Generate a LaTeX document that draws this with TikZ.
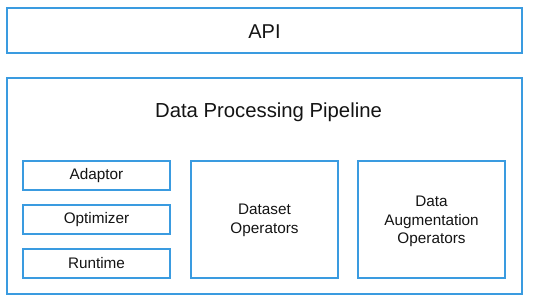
\documentclass[tikz,border=0pt]{standalone}
\usepackage{fontspec}
\usetikzlibrary{calc}
\setmainfont{Liberation Sans}
\definecolor{boxblue}{RGB}{58,155,224}
\definecolor{txt}{RGB}{20,20,20}
\begin{document}
\begin{tikzpicture}[x=1pt,y=-1pt,
  bx/.style={draw=boxblue,line width=2pt,inner sep=0pt,outer sep=0pt,text=txt,align=center},
  lbl/.style={text=txt,inner sep=0pt,align=center,font=\fontsize{15.3}{18.5}\selectfont},
  small/.style={font=\fontsize{15.3}{18.5}\selectfont}]
\useasboundingbox[fill=white] (0,0) rectangle (533,304);
\node[bx,minimum width=515pt,minimum height=45pt] (api) at (264.5,31) {};
\node[text=txt,font=\fontsize{20}{24}\selectfont,inner sep=0pt,anchor=base] (apit) at (264.5,38.5) {API};
\node[bx,minimum width=515pt,minimum height=216pt] (dpp) at (264.5,186) {};
\node[text=txt,font=\fontsize{20.3}{24}\selectfont,inner sep=0pt,anchor=base] (title) at (268.5,117.5) {Data Processing Pipeline};
\node[bx,small,minimum width=147pt,minimum height=29pt] (adaptor) at (96.5,175.5) {Adaptor};
\node[bx,small,minimum width=147pt,minimum height=29pt] (optimizer) at (96.5,219.5) {Optimizer};
\node[bx,small,minimum width=147pt,minimum height=29pt] (runtime) at (96.5,263.5) {Runtime};
\node[bx,minimum width=147pt,minimum height=117pt] (dataset) at (264.5,219.5) {};
\node[lbl] (datasett) at ($(dataset.center)+(0,1)$) {Dataset\\Operators};
\node[bx,minimum width=147pt,minimum height=117pt] (aug) at (431.5,219.5) {};
\node[lbl] (augt) at ($(aug.center)+(0,2)$) {Data\\Augmentation\\Operators};
\end{tikzpicture}
\end{document}
